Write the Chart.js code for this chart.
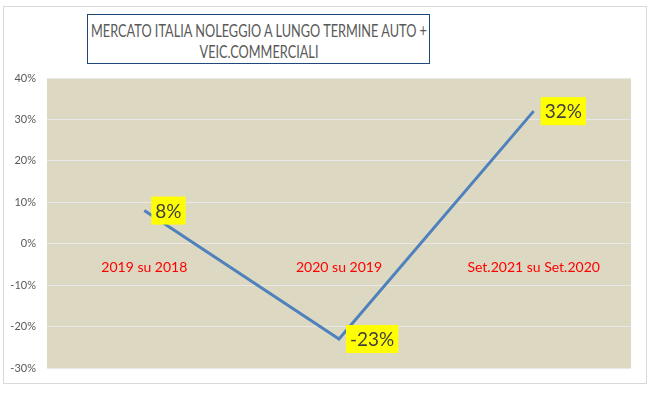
<!DOCTYPE html>
<html>
<head>
<meta charset="utf-8">
<script src="https://cdn.jsdelivr.net/npm/chart.js@4/dist/chart.umd.min.js"></script>
<style>
  body { margin: 0; background: #fff; }
  #wrap { position: relative; width: 656px; height: 396px; }
  #frame { position: absolute; left: 3px; top: 6px; width: 642px; height: 376px; border: 1px solid #d9d9d9; }
  #title {
    position: absolute; left: 87px; top: 14px; width: 341px; height: 48px;
    border: 1px solid #1f497d; background: #fff; overflow: hidden;
  }
  #title div {
    position: absolute; left: 50%; white-space: nowrap;
    font-family: Lato, sans-serif; font-size: 18px; color: #595959; line-height: 21px;
    transform-origin: center;
  }
</style>
</head>
<body>
<div id="wrap">
  <div id="frame"></div>
  <canvas id="myChart" width="656" height="396" style="position:absolute;left:0;top:0"></canvas>
  <div id="title"><div id="t1" style="top:5px">MERCATO ITALIA NOLEGGIO A LUNGO TERMINE AUTO +</div><div id="t2" style="top:26px">VEIC.COMMERCIALI</div></div>
</div>
<script>
var categories = ['2019 su 2018', '2020 su 2019', 'Set.2021 su Set.2020'];
var values = [8, -23, 32];
var yTicks = [40, 30, 20, 10, 0, -10, -20, -30];

// condensed look of the excel title: squeeze first line to ~336px
function squeezeTitle() {
  var t1 = document.getElementById('t1'), t2 = document.getElementById('t2');
  var k = 336 / t1.offsetWidth;
  [t1, t2].forEach(function(el) {
    el.style.transform = 'translateX(-50%) scaleX(' + k + ')';
  });
}

// tan plot area like the excel sheet
var plotBg = {
  id: 'plotBg',
  beforeDraw: function(chart) {
    var a = chart.chartArea, c = chart.ctx;
    c.save();
    c.fillStyle = '#ddd8c2';
    c.fillRect(a.left, a.top, a.right - a.left, a.bottom - a.top);
    c.restore();
  }
};

// yellow value boxes to the right of each point
var valueBoxes = {
  id: 'valueBoxes',
  afterDatasetsDraw: function(chart) {
    var c = chart.ctx;
    var meta = chart.getDatasetMeta(0);
    c.save();
    c.font = '19px Lato, sans-serif';
    c.textBaseline = 'middle';
    meta.data.forEach(function(pt, i) {
      var txt = values[i] + '%';
      var w = c.measureText(txt).width + 8;
      var x = pt.x + 7, y = pt.y;
      c.fillStyle = '#ffff00';
      c.fillRect(x, y - 14, w, 28);
      c.fillStyle = '#404040';
      c.fillText(txt, x + 4, y + 1);
    });
    c.restore();
  }
};

window.onload = function() {
  squeezeTitle();
  var ctx = document.getElementById('myChart').getContext('2d');
  new Chart(ctx, {
    type: 'line',
    data: {
      labels: categories,
      datasets: [{
        data: values,
        borderColor: '#4f81bd',
        borderWidth: 3,
        pointRadius: 0,
        tension: 0,
        fill: false
      }]
    },
    options: {
      responsive: false,
      animation: false,
      layout: { padding: { left: 0, right: 25, top: 78, bottom: 28 } },
      plugins: { legend: { display: false }, tooltip: { enabled: false } },
      scales: {
        x: {
          position: { y: 0 },
          offset: true,
          grid: { display: false, drawTicks: false },
          border: { display: false },
          ticks: { color: '#ff0000', padding: 15, font: { family: 'Lato, sans-serif', size: 14 } }
        },
        y: {
          min: -30, max: 40,
          afterFit: function(s) { s.width = 47; },
          afterBuildTicks: function(s) { s.ticks = yTicks.map(function(v) { return { value: v }; }); },
          grid: { color: '#e8e8e8', lineWidth: 1, drawTicks: false },
          border: { display: false },
          ticks: {
            color: '#595959', padding: 11,
            font: { family: 'Lato, sans-serif', size: 11 },
            callback: function(v) { return v + '%'; }
          }
        }
      }
    },
    plugins: [plotBg, valueBoxes]
  });
};
</script>
</body>
</html>
